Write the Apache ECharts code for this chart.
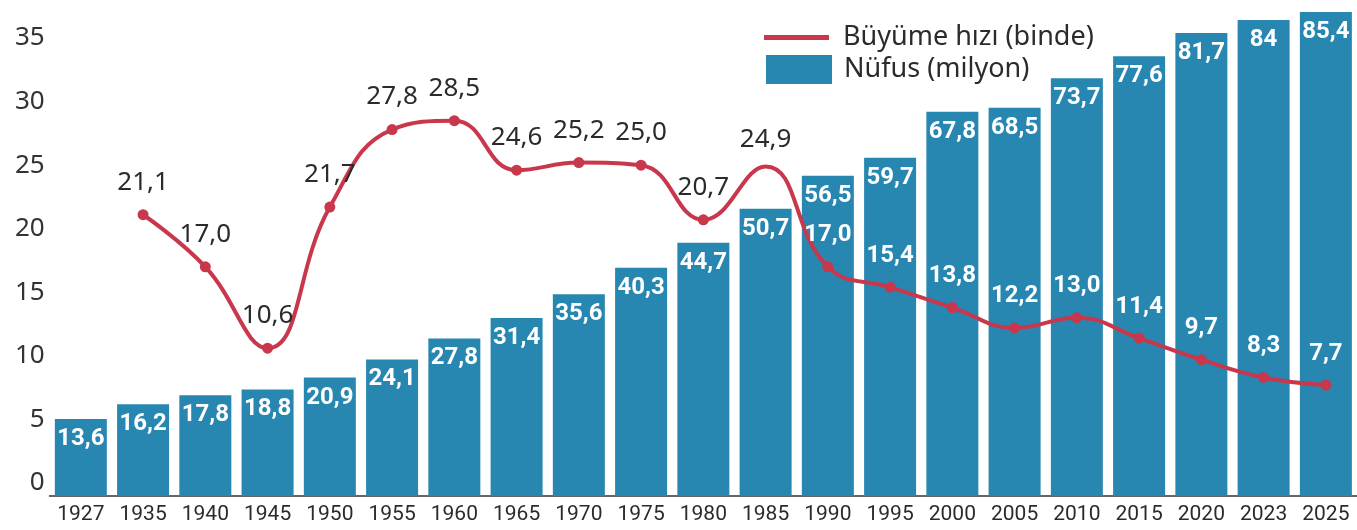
<!DOCTYPE html>
<html>
<head>
<meta charset="utf-8">
<script src="https://cdn.jsdelivr.net/npm/echarts@6/dist/echarts.min.js"></script>
<style>
  html, body { margin: 0; padding: 0; background: #fff; }
  #main { width: 1357px; height: 530px; }
</style>
</head>
<body>
<div id="main"></div>
<script>
// yillar, nufus (milyon) ve buyume hizi (binde)
var years = ['1927', '1935', '1940', '1945', '1950', '1955', '1960', '1965', '1970', '1975', '1980',
	'1985', '1990', '1995', '2000', '2005', '2010', '2015', '2020', '2023', '2025'];
var nufus = [13.6, 16.2, 17.8, 18.8, 20.9, 24.1, 27.8, 31.4, 35.6, 40.3, 44.7,
	50.7, 56.5, 59.7, 67.8, 68.5, 73.7, 77.6, 81.7, 84, 85.4];
var buyume = [null, 21.1, 17.0, 10.6, 21.7, 27.8, 28.5, 24.6, 25.2, 25.0, 20.7,
	24.9, 17.0, 15.4, 13.8, 12.2, 13.0, 11.4, 9.7, 8.3, 7.7];
var yTicks = [0, 5, 10, 15, 20, 25, 30, 35];

var blue = '#2787b0';
var red = '#c8374b';
var dark = '#2b2b2b';
var narrow = "Roboto, 'Liberation Sans', sans-serif";
var normal = "'Noto Sans', sans-serif";

// 1990'dan sonra etiketler mavi cubuklarin ustunde, beyaz
var lineData = buyume.map(function(v, i) {
	if (i < 12) return v;
	return {
		value: v,
		label: {
			color: '#fff',
			fontFamily: narrow,
			fontWeight: 'bold',
			fontSize: 24
		}
	};
});

var myChart = echarts.init(document.getElementById('main'));
var option = {
	animation: false,
	backgroundColor: '#fff',
	legend: [{
		data: ['Büyüme hızı (binde)'],
		left: 764,
		top: 24,
		padding: 0,
		icon: 'rect',
		itemWidth: 65,
		itemHeight: 5,
		textStyle: {
			fontFamily: normal,
			fontSize: 27,
			color: dark,
			lineHeight: 27,
			padding: [0, 0, 0, 9]
		}
	}, {
		data: ['Nüfus (milyon)'],
		left: 766,
		top: 55,
		padding: 0,
		icon: 'rect',
		itemWidth: 66,
		itemHeight: 29,
		textStyle: {
			fontFamily: normal,
			fontSize: 27,
			color: dark,
			lineHeight: 27,
			padding: [0, 0, 0, 7]
		}
	}],
	grid: [{
		left: 49.7,
		right: -8,
		top: 3,
		bottom: 34
	}, {
		left: 49.7,
		right: -8,
		top: 38,
		bottom: 47
	}],
	xAxis: [{
		type: 'category',
		gridIndex: 0,
		data: years,
		axisLine: {
			lineStyle: { color: '#666', width: 2 }
		},
		axisTick: { show: false },
		axisLabel: {
			fontFamily: narrow,
			fontSize: 21,
			color: dark,
			margin: 8,
			interval: 0
		}
	}, {
		type: 'category',
		gridIndex: 1,
		data: years,
		show: false
	}],
	yAxis: [{
		type: 'value',
		gridIndex: 0,
		min: 0,
		max: 87,
		show: false
	}, {
		type: 'value',
		gridIndex: 1,
		min: yTicks[0],
		max: yTicks[yTicks.length - 1],
		interval: 5,
		axisLine: { show: false },
		axisTick: { show: false },
		splitLine: { show: false },
		axisLabel: {
			fontFamily: normal,
			fontSize: 26,
			color: '#333',
			margin: 5
		}
	}],
	series: [{
		name: 'Nüfus (milyon)',
		type: 'bar',
		xAxisIndex: 0,
		yAxisIndex: 0,
		data: nufus,
		barWidth: 52,
		itemStyle: { color: blue },
		label: {
			show: true,
			position: 'insideTop',
			distance: 8,
			color: '#fff',
			fontFamily: narrow,
			fontWeight: 'bold',
			fontSize: 24,
			formatter: function(p) {
				return String(p.value).replace('.', ',');
			}
		}
	}, {
		name: 'Büyüme hızı (binde)',
		type: 'line',
		xAxisIndex: 1,
		yAxisIndex: 1,
		data: lineData,
		smooth: 0.45,
		color: red,
		symbol: 'circle',
		symbolSize: function(v, p) {
			// 1985 noktasinda isaret yok
			return p.dataIndex === 11 ? 0 : 11;
		},
		lineStyle: { color: red, width: 4 },
		itemStyle: { color: red },
		label: {
			show: true,
			position: 'top',
			distance: 14,
			color: dark,
			fontFamily: normal,
			fontSize: 26,
			formatter: function(p) {
				var v = typeof p.value === 'object' ? p.value.value : p.value;
				return Number(v).toFixed(1).replace('.', ',');
			}
		},
		z: 5
	}]
};
myChart.setOption(option);
</script>
</body>
</html>
